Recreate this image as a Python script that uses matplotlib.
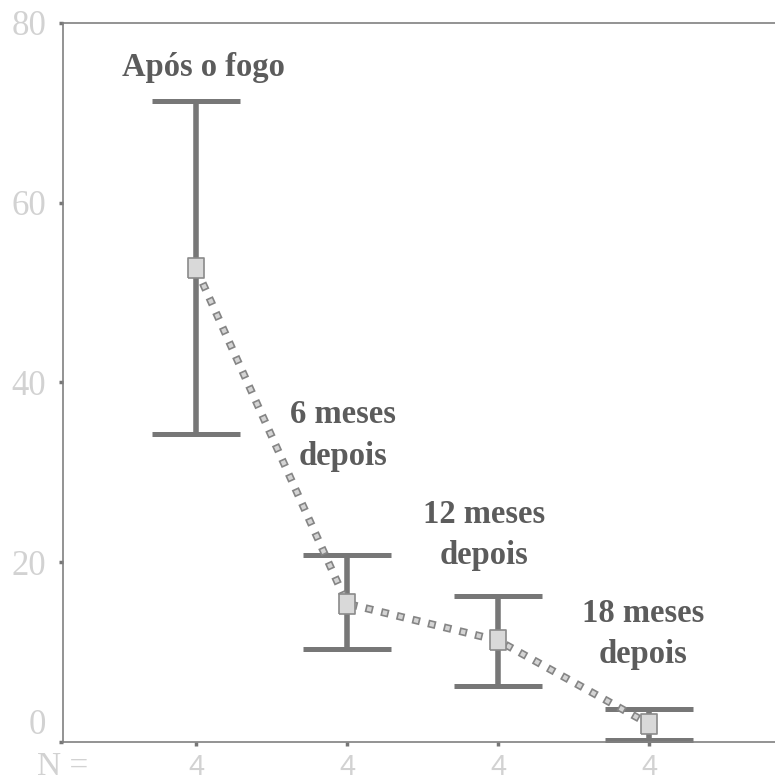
import numpy as np
import matplotlib
matplotlib.use("Agg")
import matplotlib.pyplot as plt
from matplotlib.transforms import ScaledTranslation

plt.rcParams['font.family'] = ['Liberation Serif', 'DejaVu Serif']
plt.rcParams['lines.scale_dashes'] = False

grupos = ["Após o fogo", "6 meses\ndepois", "12 meses\ndepois", "18 meses\ndepois"]
posicao = [1, 2, 3, 4]
media = [52.7, 15.4, 11.3, 2.0]
superior = [71.3, 20.8, 16.3, 3.7]
inferior = [34.3, 10.3, 6.2, 0.2]
n_amostra = ["4", "4", "4", "4"]
# onde fica cada rotulo (x, y) em unidades dos dados
rotulo_xy = [(1.05, 75.1), (1.97, 34.1), (2.91, 23.0), (3.96, 12.0)]

cinza = "#777777"
texto = "#5c5c5c"
claro = "#d2d2d2"

fig = plt.figure(figsize=(7.75, 7.81), dpi=100)
ax = fig.add_axes([0.0813, 0.0499, 0.9187, 0.9207])

med = np.array(media)
err = [med - np.array(inferior), np.array(superior) - med]
ax.errorbar(posicao, media, yerr=err, fmt='none', ecolor=cinza,
            elinewidth=4, capsize=31.7, capthick=3.6, zorder=2, clip_on=False)

# linha pontilhada de quadradinhos
ax.plot(posicao, media, color="#858585", lw=5.6, linestyle=(0, (5.6, 6.0)),
        dash_capstyle='butt', zorder=3)
ax.plot(posicao, media, color="#d4d4d4", lw=3.2, linestyle=(10.4, (3.2, 8.4)),
        dash_capstyle='butt', zorder=4)

ret = [(-0.4, -0.5), (0.4, -0.5), (0.4, 0.5), (-0.4, 0.5), (-0.4, -0.5)]
ax.plot(posicao, media, linestyle='none', marker=ret, markersize=14,
        markerfacecolor="#d9d9d9", markeredgecolor="#8a8a8a", markeredgewidth=1.2,
        zorder=5)

for (x, y), g in zip(rotulo_xy, grupos):
    ax.text(x, y, g, ha='center', va='center', fontsize=23.5, fontweight='bold',
            color=texto, linespacing=1.42)

ax.set_xlim(0.119, 4.834)
ax.set_ylim(0, 80)
ax.set_yticks([0, 20, 40, 60, 80])
ax.set_xticks(posicao)
ax.set_xticklabels(n_amostra, fontfamily='Liberation Sans', fontsize=21)
ax.tick_params(axis='both', colors=cinza, labelcolor=claro,
               length=3, width=2.5)
ax.tick_params(axis='y', pad=9, labelsize=25)
ax.tick_params(axis='x', pad=5)
for s in ['left', 'bottom', 'top']:
    ax.spines[s].set_color("#808080")
    ax.spines[s].set_linewidth(1.2)
ax.spines['right'].set_visible(False)

# o "0" fica um pouco acima da marca
zero = ax.yaxis.get_major_ticks()[0].label1
zero.set_transform(zero.get_transform() + ScaledTranslation(0, 15 / 72, fig.dpi_scale_trans))

ax.text(0.0, -0.034, "N =", transform=ax.transAxes, ha='center', va='center',
        fontsize=24, color=claro)

fig.savefig("out.png", dpi=100)
